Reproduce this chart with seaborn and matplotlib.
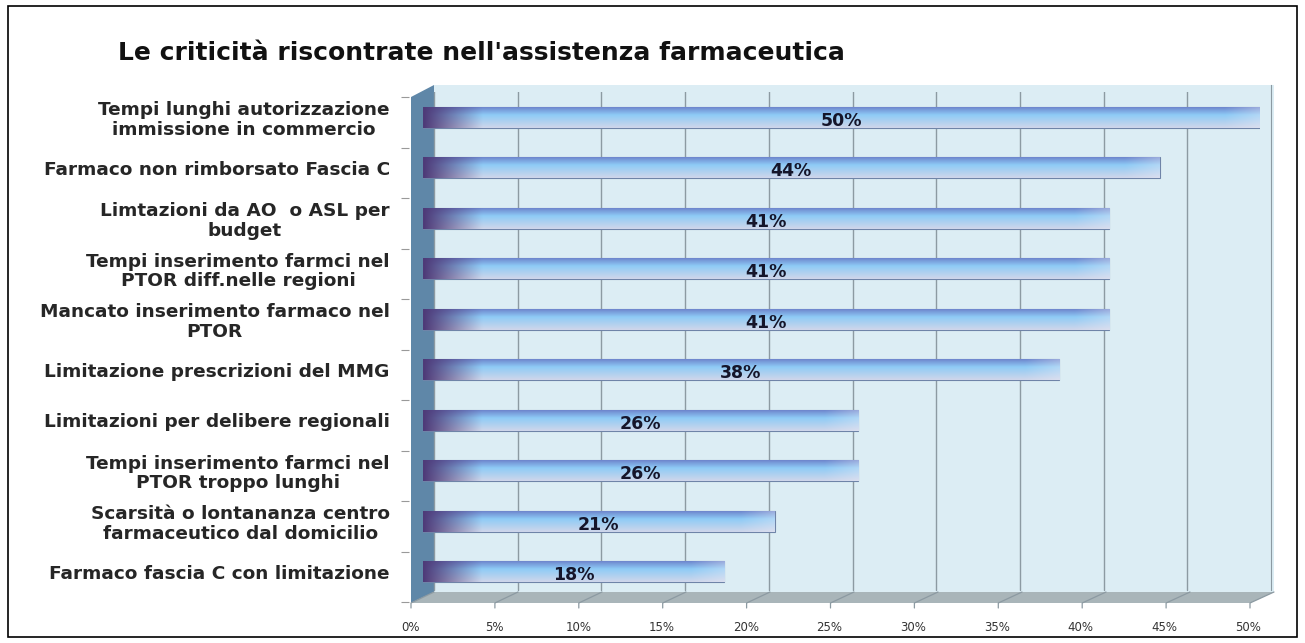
import numpy as np
import pandas as pd
import seaborn as sns
import matplotlib.pyplot as plt
from matplotlib.patches import Polygon, Rectangle
from matplotlib.lines import Line2D
from matplotlib.colors import to_rgb
from matplotlib.transforms import ScaledTranslation

categories = [
    "Tempi lunghi autorizzazione\nimmissione in commercio",
    "Farmaco non rimborsato Fascia C",
    "Limtazioni da AO  o ASL per\nbudget",
    "Tempi inserimento farmci nel\nPTOR diff.nelle regioni",
    "Mancato inserimento farmaco nel\nPTOR",
    "Limitazione prescrizioni del MMG",
    "Limitazioni per delibere regionali",
    "Tempi inserimento farmci nel\nPTOR troppo lunghi",
    "Scarsità o lontananza centro\nfarmaceutico dal domicilio",
    "Farmaco fascia C con limitazione",
]
values = [50, 44, 41, 41, 41, 38, 26, 26, 21, 18]
x_ticks = [0, 5, 10, 15, 20, 25, 30, 35, 40, 45, 50]
title = "Le criticità riscontrate nell'assistenza farmaceutica"

df = pd.DataFrame({"categoria": categories, "valore": values})

sns.set_style("white")
plt.rcParams['font.family'] = ['DejaVu Sans']

W, H = 1305, 643
fig = plt.figure(figsize=(W / 100, H / 100), dpi=100)

def fx(px):
    return px / W

def fy(py):
    return 1 - py / H

# 3d box (pixel coords)
back_l, back_r, back_t, back_b = 434, 1274, 85, 592
front_l, front_r, front_t, front_b = 411, 1250, 97, 603

back = Rectangle((fx(back_l), fy(back_b)), fx(back_r - back_l), (back_b - back_t) / H,
                 transform=fig.transFigure, facecolor='#dcedf4', edgecolor='none', zorder=0)
wall = Polygon([(fx(front_l), fy(front_t)), (fx(back_l), fy(back_t)),
                (fx(back_l), fy(back_b)), (fx(front_l), fy(front_b))],
               closed=True, transform=fig.transFigure, facecolor='#5f87a8',
               edgecolor='none', zorder=0)
floor = Polygon([(fx(front_l), fy(front_b)), (fx(back_l), fy(back_b)),
                 (fx(back_r), fy(back_b)), (fx(front_r), fy(front_b))],
                closed=True, transform=fig.transFigure, facecolor='#a9b5b9',
                edgecolor='none', zorder=0)
fig.patches.extend([back, wall, floor])

# floor lines from the front ticks to the back grid
for t in x_ticks:
    xb = back_l + t * (back_r - back_l) / 50
    xf = front_l + t * (front_r - front_l) / 50
    fig.add_artist(Line2D([fx(xb), fx(xf), fx(xf)], [fy(back_b), fy(front_b), fy(front_b + 5)],
                          transform=fig.transFigure, color='#8c9aa2', linewidth=0.9, zorder=0.5))

# bars sit in the middle of the box depth
left_px, right_px, top_px, bot_px = 423, 1260, 92, 597
ax = fig.add_axes([fx(left_px), fy(bot_px), fx(right_px - left_px), (bot_px - top_px) / H])
ax.set_zorder(2)
ax.patch.set_alpha(0)

sns.barplot(data=df, x="valore", y="categoria", orient="h", width=0.42,
            color='#8ec6f2', edgecolor='#6f84a8', linewidth=0.8, ax=ax, zorder=3)

ax.set_xlim(0, 50)
ax.set_ylim(9.5, -0.5)

# tube-like shading on each bar
purple = np.array(to_rgb('#4e3a78'))
top_c = np.array(to_rgb('#6a7ec8'))
mid_c = np.array(to_rgb('#8ecbf6'))
bot_c = np.array(to_rgb('#cfd6ea'))
rows = np.linspace(0, 1, 40)[:, None]
vert = np.where(rows < 0.4,
                top_c + (mid_c - top_c) * (rows / 0.4),
                mid_c + (bot_c - mid_c) * ((rows - 0.4) / 0.6))
for patch in ax.patches:
    x0, y0 = patch.get_x(), patch.get_y()
    w, h = patch.get_width(), patch.get_height()
    cols = np.linspace(x0, x0 + w, 300)[None, :]
    t = np.clip(cols / 3.5, 0, 1)[..., None]
    fade = np.clip((cols - (x0 + w - 2.0)) / 2.0, 0, 1)[..., None]
    base = vert[:, None, :] * (1 - 0.35 * fade) + np.array([0.93, 0.93, 0.97]) * 0.35 * fade
    img = purple * (1 - t) + base * t
    im = ax.imshow(img, extent=[x0, x0 + w, y0 + h, y0], aspect='auto',
                   origin='upper', zorder=3.5, interpolation='bilinear')
    im.set_clip_path(patch)

for i, v in enumerate(values):
    ax.text(v / 2, i + 0.07, f"{v}%", ha='center', va='center',
            fontsize=12.5, fontweight='bold', color='#15152a', zorder=5)

# grid on the back wall, tick labels on the front edge
back_shift = ScaledTranslation((back_l - left_px) / 100, (top_px - back_t) / 100, fig.dpi_scale_trans)
front_shift = ScaledTranslation((front_l - left_px) / 100, 0, fig.dpi_scale_trans)
side_shift = ScaledTranslation((front_l - 2 - left_px) / 100, -5 / 100, fig.dpi_scale_trans)
ax.set_xticks(x_ticks)
ax.set_xticklabels([f"{t}%" for t in x_ticks], fontsize=8.5, color='#333333')
ax.tick_params(axis='x', length=0, pad=17)
for lab in ax.get_xticklabels():
    lab.set_transform(lab.get_transform() + front_shift)
ax.grid(axis='x', color='#8c9aa2', linewidth=1.0, zorder=0)
for gl in ax.get_xgridlines():
    gl.set_transform(gl.get_transform() + back_shift)
ax.set_axisbelow(True)

ax.set_yticks(np.arange(-0.5, 10, 1), minor=True)
ax.tick_params(axis='y', which='major', length=0, pad=24)
ax.tick_params(axis='y', which='minor', left=True, length=6, color='#999999', width=0.8, pad=0)
for tk in ax.yaxis.get_minor_ticks():
    tk.tick1line.set_transform(tk.tick1line.get_transform() + side_shift)
for lab in ax.get_yticklabels():
    lab.set_fontsize(13.3)
    lab.set_fontweight('bold')
    lab.set_multialignment('center')
    lab.set_linespacing(1.1)
ax.set_xlabel("")
ax.set_ylabel("")
for s in ax.spines.values():
    s.set_visible(False)
ax.spines['right'].set_visible(True)
ax.spines['right'].set_color('#8c9aa2')
ax.spines['right'].set_transform(ax.spines['right'].get_transform() + back_shift)

fig.text(fx(118), fy(53), title, fontsize=18, fontweight='bold',
         va='center', ha='left', color='#111111')

border = Rectangle((fx(8), fy(637)), fx(1289), (637 - 6) / H, transform=fig.transFigure,
                   fill=False, edgecolor='black', linewidth=1.2)
fig.patches.append(border)

fig.savefig("out.png", dpi=100)
